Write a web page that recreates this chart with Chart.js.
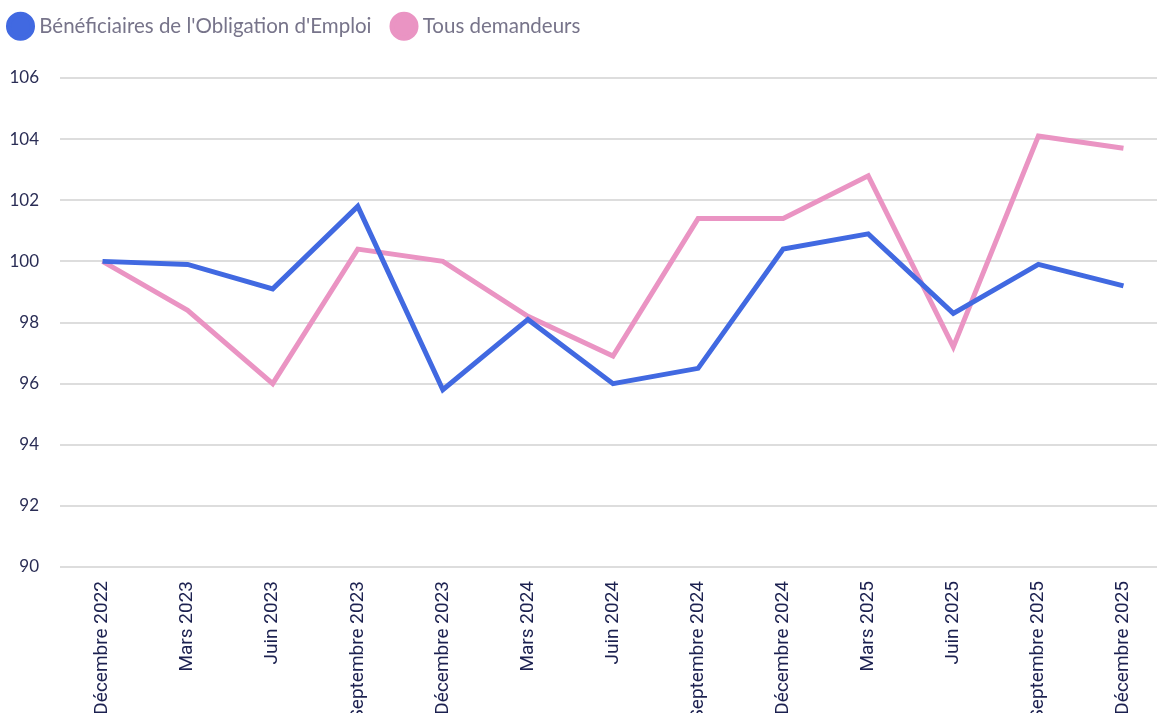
<!DOCTYPE html>
<html>
<head>
<meta charset="utf-8">
<script src="https://cdn.jsdelivr.net/npm/chart.js@4"></script>
<style>
  html, body { margin: 0; padding: 0; background: #fff; overflow: hidden; }
  #wrap { width: 1166px; height: 713px; }
</style>
</head>
<body>
<div id="wrap"><canvas id="myChart"></canvas></div>
<script>
const labels = ["Décembre 2022", "Mars 2023", "Juin 2023", "Septembre 2023", "Décembre 2023", "Mars 2024", "Juin 2024", "Septembre 2024", "Décembre 2024", "Mars 2025", "Juin 2025", "Septembre 2025", "Décembre 2025"];
const beneficiaires = [100, 99.9, 99.1, 101.8, 95.8, 98.1, 96.0, 96.5, 100.4, 100.9, 98.3, 99.9, 99.2];
const tousDemandeurs = [100, 98.4, 96.0, 100.4, 100.0, 98.2, 96.9, 101.4, 101.4, 102.8, 97.2, 104.1, 103.7];

// push the plot down below the legend
const legendMargin = {
    id: "legendMargin",
    beforeInit(chart) {
        const fit = chart.legend.fit;
        chart.legend.fit = function () {
            fit.bind(chart.legend)();
            this.height = 86;
        };
    }
};

const ctx = document.getElementById("myChart").getContext("2d");
new Chart(ctx, {
    type: "line",
    plugins: [legendMargin],
    data: {
        labels: labels,
        datasets: [
            {
                label: "Bénéficiaires de l'Obligation d'Emploi",
                data: beneficiaires,
                borderColor: "#4169e1",
                backgroundColor: "#4169e1",
                borderWidth: 5,
                pointRadius: 0,
                tension: 0
            },
            {
                label: "Tous demandeurs",
                data: tousDemandeurs,
                borderColor: "#ea94c3",
                backgroundColor: "#ea94c3",
                borderWidth: 5,
                pointRadius: 0,
                tension: 0
            }
        ]
    },
    options: {
        responsive: true,
        maintainAspectRatio: false,
        animation: false,
        layout: { padding: { left: -12, right: 0, top: -8, bottom: 0 } },
        plugins: {
            legend: {
                position: "top",
                align: "start",
                labels: {
                    usePointStyle: true,
                    pointStyle: "circle",
                    boxWidth: 17,
                    boxHeight: 17,
                    color: "#77748a",
                    font: { family: "Lato", size: 20.5 },
                    padding: 24
                }
            },
            tooltip: { enabled: false }
        },
        scales: {
            x: {
                offset: true,
                grid: { display: false },
                border: { display: false },
                afterFit(scale) { scale.height = 146; },
                ticks: {
                    color: "#1c2150",
                    font: { family: "Roboto", size: 19 },
                    maxRotation: 90,
                    minRotation: 90,
                    autoSkip: false,
                    padding: 6
                }
            },
            y: {
                min: 90,
                max: 106,
                afterFit(scale) { scale.width = 72; },
                grid: { color: "#dddddd", lineWidth: 2, drawTicks: false },
                border: { display: false },
                ticks: {
                    stepSize: 2,
                    color: "#2a2d55",
                    font: { family: "Lato", size: 17 },
                    padding: 21
                }
            }
        }
    }
});
</script>
</body>
</html>
